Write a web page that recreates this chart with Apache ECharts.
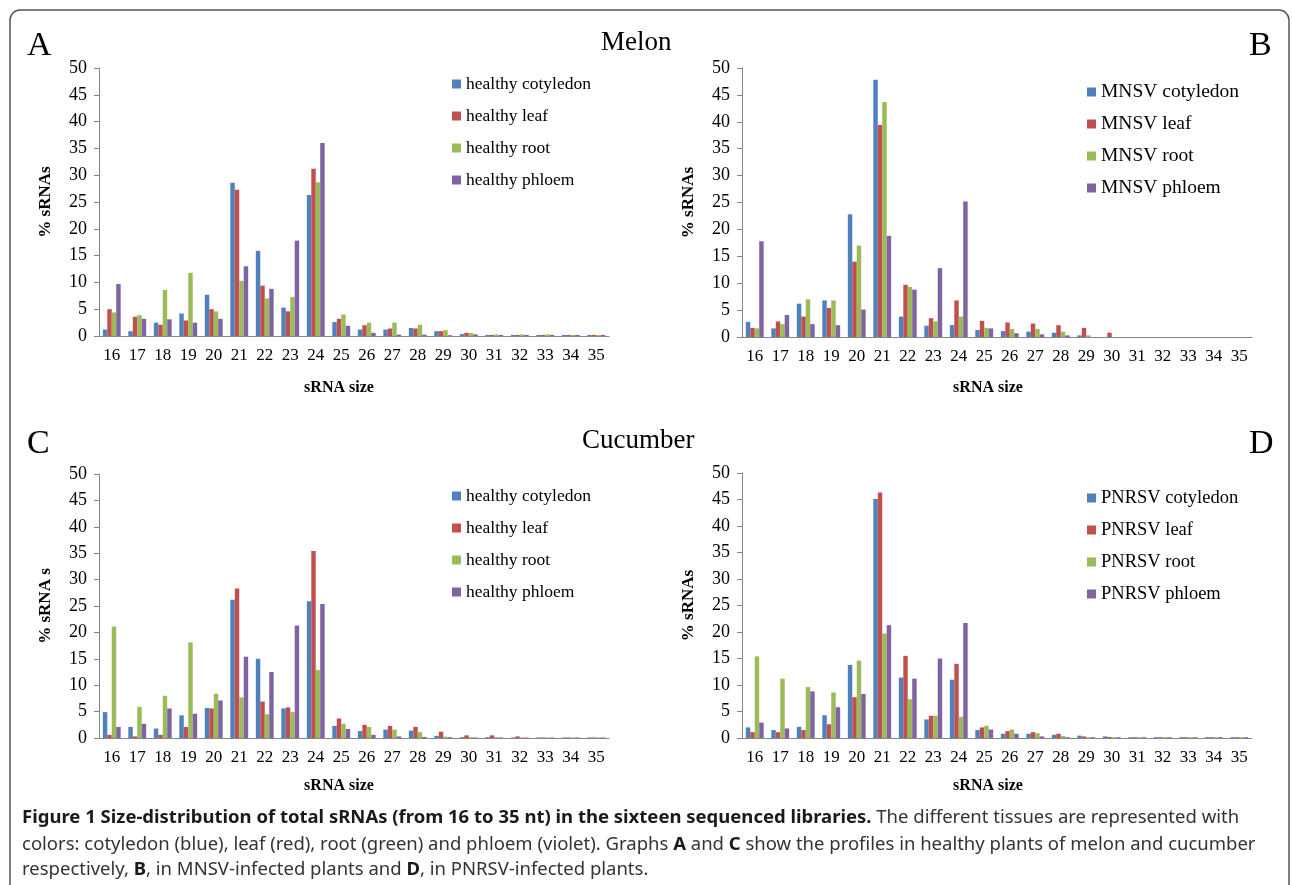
<!DOCTYPE html>
<html>
<head>
<meta charset="utf-8">
<script src="https://cdn.jsdelivr.net/npm/echarts@6/dist/echarts.min.js"></script>
<style>
html, body { margin: 0; padding: 0; background: #fff; }
#chart { width: 1292px; height: 885px; }
</style>
</head>
<body>
<div id="chart"></div>
<script>
// sRNA sizes (nt)
var sizes = ['16','17','18','19','20','21','22','23','24','25','26','27','28','29','30','31','32','33','34','35'];
var yTicks = [0, 50, 5]; // min, max, step

// A - melon healthy
var melonCotyledon = [1.2, 0.9, 2.5, 4.2, 7.7, 28.6, 15.9, 5.3, 26.3, 2.6, 1.2, 1.2, 1.5, 0.9, 0.35, 0.2, 0.2, 0.2, 0.2, 0.2];
var melonLeaf      = [5.0, 3.6, 2.1, 2.9, 5.0, 27.3, 9.4, 4.6, 31.2, 3.2, 2.0, 1.4, 1.4, 0.9, 0.6, 0.2, 0.2, 0.2, 0.2, 0.2];
var melonRoot      = [4.4, 3.9, 8.6, 11.8, 4.6, 10.3, 7.0, 7.3, 28.7, 4.0, 2.5, 2.5, 2.1, 1.1, 0.55, 0.3, 0.3, 0.3, 0.2, 0.2];
var melonPhloem    = [9.7, 3.2, 3.1, 2.5, 3.2, 13.0, 8.8, 17.8, 36.0, 1.9, 0.6, 0.25, 0.25, 0.15, 0.3, 0.2, 0.2, 0.2, 0.2, 0.2];

// B - melon MNSV
var mnsvCotyledon = [2.8, 1.6, 6.2, 6.8, 22.8, 47.8, 3.8, 2.1, 2.2, 1.3, 1.1, 1.0, 0.8, 0.3, 0, 0, 0, 0, 0, 0];
var mnsvLeaf      = [1.7, 2.9, 3.8, 5.4, 14.0, 39.4, 9.7, 3.5, 6.8, 3.0, 2.7, 2.5, 2.2, 1.7, 0.8, 0, 0, 0, 0, 0];
var mnsvRoot      = [1.6, 2.4, 7.0, 6.8, 17.0, 43.7, 9.3, 2.9, 3.8, 1.7, 1.5, 1.5, 1.0, 0.3, 0, 0, 0, 0, 0, 0];
var mnsvPhloem    = [17.8, 4.1, 2.4, 2.2, 5.1, 18.8, 8.8, 12.8, 25.2, 1.6, 0.7, 0.5, 0.3, 0, 0, 0, 0, 0, 0, 0];

// C - cucumber healthy
var cucCotyledon = [4.9, 2.1, 1.8, 4.3, 5.7, 26.2, 15.0, 5.6, 25.9, 2.3, 1.3, 1.6, 1.4, 0.4, 0.15, 0.15, 0.1, 0.1, 0.1, 0.1];
var cucLeaf      = [0.6, 0.3, 0.6, 2.1, 5.6, 28.3, 6.9, 5.8, 35.4, 3.7, 2.5, 2.3, 2.1, 1.2, 0.5, 0.5, 0.3, 0.1, 0.1, 0.1];
var cucRoot      = [21.1, 5.9, 8.0, 18.1, 8.4, 7.7, 4.5, 4.9, 12.9, 2.7, 2.1, 1.6, 1.1, 0.25, 0.15, 0.15, 0.1, 0.1, 0.1, 0.1];
var cucPhloem    = [2.1, 2.7, 5.6, 4.6, 7.1, 15.4, 12.5, 21.3, 25.4, 1.7, 0.6, 0.3, 0.2, 0.15, 0.1, 0.1, 0.1, 0.1, 0.1, 0.1];

// D - cucumber PNRSV
var pnrsvCotyledon = [2.0, 1.5, 2.1, 4.3, 13.8, 45.1, 11.4, 3.5, 11.0, 1.5, 0.8, 0.8, 0.6, 0.45, 0.3, 0.15, 0.15, 0.15, 0.15, 0.15];
var pnrsvLeaf      = [1.1, 1.1, 1.5, 2.6, 7.7, 46.3, 15.5, 4.2, 14.0, 2.0, 1.3, 1.1, 0.8, 0.3, 0.2, 0.15, 0.15, 0.15, 0.15, 0.15];
var pnrsvRoot      = [15.4, 11.2, 9.6, 8.6, 14.6, 19.7, 7.3, 4.2, 4.0, 2.3, 1.6, 0.9, 0.4, 0.15, 0.15, 0.15, 0.15, 0.15, 0.15, 0.15];
var pnrsvPhloem    = [2.9, 1.8, 8.8, 5.8, 8.3, 21.3, 11.2, 15.0, 21.7, 1.6, 0.8, 0.3, 0.15, 0.15, 0.15, 0.15, 0.15, 0.15, 0.15, 0.15];

var colors = ['#4F81BD', '#C0504D', '#9BBB59', '#8064A2'];
var serif = 'Liberation Serif';

var panels = [
    {names: ['healthy cotyledon', 'healthy leaf', 'healthy root', 'healthy phloem'],
     data: [melonCotyledon, melonLeaf, melonRoot, melonPhloem], yName: '% sRNAs', xGap: 44, xShift: 30,
     grid: {left: 99, right: 683, top: 68, height: 268}, legend: {left: 447, top: 69, size: 17.5}},
    {names: ['MNSV cotyledon', 'MNSV leaf', 'MNSV root', 'MNSV phloem'],
     data: [mnsvCotyledon, mnsvLeaf, mnsvRoot, mnsvPhloem], yName: '% sRNAs', xGap: 43, xShift: 18,
     grid: {left: 742, right: 40, top: 68, height: 269}, legend: {left: 1082, top: 77, size: 19.5}},
    {names: ['healthy cotyledon', 'healthy leaf', 'healthy root', 'healthy phloem'],
     data: [cucCotyledon, cucLeaf, cucRoot, cucPhloem], yName: '% sRNA s', xGap: 40, xShift: 30,
     grid: {left: 99, right: 683, top: 474, height: 264}, legend: {left: 447, top: 481, size: 17.5}},
    {names: ['PNRSV cotyledon', 'PNRSV leaf', 'PNRSV root', 'PNRSV phloem'],
     data: [pnrsvCotyledon, pnrsvLeaf, pnrsvRoot, pnrsvPhloem], yName: '% sRNAs', xGap: 40, xShift: 18,
     grid: {left: 742, right: 40, top: 473, height: 265}, legend: {left: 1082, top: 483, size: 18.5}}
];

var grids = [], xAxes = [], yAxes = [], legends = [], series = [];
for (var p = 0; p < panels.length; p++) {
    var pn = panels[p];
    grids.push(pn.grid);
    xAxes.push({
        type: 'category', gridIndex: p, data: sizes,
        name: 'sRNA size', nameLocation: 'middle', nameGap: pn.xGap,
        nameTextStyle: {fontFamily: serif, fontWeight: 'bold', fontSize: 16, color: '#000', padding: [0, pn.xShift, 0, 0]},
        axisLine: {lineStyle: {color: '#868686'}},
        axisTick: {length: 5, lineStyle: {color: '#868686'}},
        axisLabel: {
            interval: 0, margin: 11, fontFamily: serif, fontSize: 17, color: '#000',
            formatter: '{t|{value}}',
            rich: {t: {fontFamily: serif, fontSize: 17, color: '#000'}}
        }
    });
    yAxes.push({
        type: 'value', gridIndex: p, min: yTicks[0], max: yTicks[1], interval: yTicks[2],
        name: pn.yName, nameLocation: 'middle', nameGap: 45,
        nameTextStyle: {fontFamily: serif, fontWeight: 'bold', fontSize: 17, color: '#000'},
        axisLine: {show: true, lineStyle: {color: '#868686'}},
        axisTick: {show: true, length: 5, lineStyle: {color: '#868686'}},
        splitLine: {show: false},
        axisLabel: {
            margin: 12, fontFamily: serif, fontSize: 18, color: '#000',
            formatter: '{t|{value}}',
            rich: {t: {fontFamily: serif, fontSize: 18, color: '#000'}}
        }
    });
    legends.push({
        orient: 'vertical', left: pn.legend.left, top: pn.legend.top,
        data: pn.names, icon: 'rect', itemWidth: 9, itemHeight: 9, itemGap: 12,
        textStyle: {fontFamily: serif, fontSize: pn.legend.size, lineHeight: 20, color: '#000'}
    });
    for (var s = 0; s < 4; s++) {
        series.push({
            name: pn.names[s], type: 'bar', xAxisIndex: p, yAxisIndex: p,
            data: pn.data[s], barGap: '0%', barCategoryGap: '30%',
            itemStyle: {color: colors[s]}
        });
    }
}

var sans = '"Noto Sans", "Open Sans", sans-serif';
function captionLine(y, text) {
    return {
        type: 'text', left: 22, top: y,
        style: {
            text: text, fontFamily: sans, fontSize: 18.5, lineHeight: 20, fill: '#333',
            rich: {
                b: {fontFamily: sans, fontSize: 18.5, lineHeight: 20, fontWeight: 'bold', fill: '#1a1a1a'}
            }
        }
    };
}
function label(txt, x, y, size) {
    return {type: 'text', left: x, top: y, style: {text: txt, fontFamily: serif, fontSize: size, fill: '#000'}};
}

var chart = echarts.init(document.getElementById('chart'));
chart.setOption({
    animation: false,
    color: colors,
    grid: grids,
    xAxis: xAxes,
    yAxis: yAxes,
    legend: legends,
    series: series,
    graphic: [
        {type: 'rect', shape: {x: 10, y: 10, width: 1279, height: 900, r: 10},
         style: {fill: 'none', stroke: '#555', lineWidth: 1.5}, silent: true},
        label('A', 27, 29, 34),
        label('Melon', 601, 29, 27),
        label('B', 1249, 29, 34),
        label('C', 27, 427, 34),
        label('Cucumber', 582, 427, 27),
        label('D', 1249, 427, 34),
        captionLine(808, '{b|Figure 1 Size-distribution of total sRNAs (from 16 to 35 nt) in the sixteen sequenced libraries.} The different tissues are represented with'),
        captionLine(835, 'colors: cotyledon (blue), leaf (red), root (green) and phloem (violet). Graphs {b|A} and {b|C} show the profiles in healthy plants of melon and cucumber'),
        captionLine(860, 'respectively, {b|B}, in MNSV-infected plants and {b|D}, in PNRSV-infected plants.')
    ]
});
</script>
</body>
</html>
